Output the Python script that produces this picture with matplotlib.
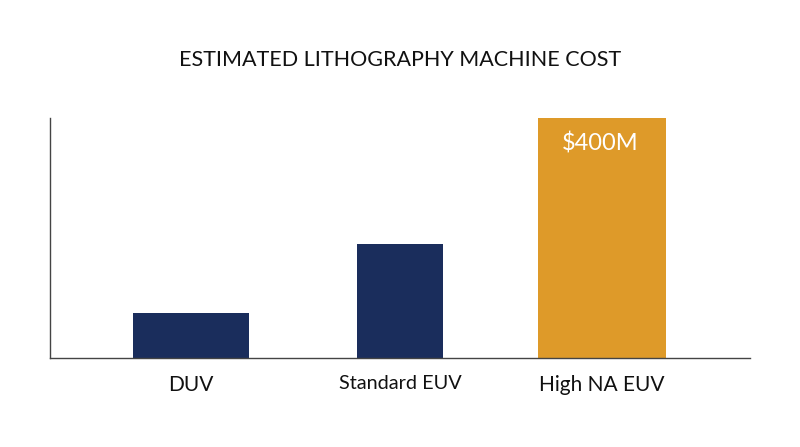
import matplotlib
matplotlib.use("Agg")
import matplotlib.pyplot as plt

# data (cost in $M)
machines = ["DUV", "Standard EUV", "High NA EUV"]
cost = [75, 190, 400]
value_labels = ["", "", "$400M"]

plt.rcParams["font.family"] = ["Lato", "DejaVu Sans"]

W, H = 800, 447
fig = plt.figure(figsize=(W / 100, H / 100), dpi=100)
ax = fig.add_axes([50 / W, (H - 358) / H, 700 / W, 240 / H])

# layout in axes pixel units
xpos = [141, 350, 552]
widths = [116, 86, 128]
colors = ["#1a2d5c", "#1a2d5c", "#de9a29"]
label_sizes = [15, 14.3, 15]

ax.bar(xpos, cost, width=widths, color=colors, align="center")

for x, v, lab in zip(xpos, cost, value_labels):
    if lab:
        ax.text(x - 2, v - 42, lab, ha="center", va="center", color="white", fontsize=17)

ax.set_xlim(0, 700)
ax.set_ylim(0, 400)
ax.set_xticks(xpos)
ax.set_xticklabels(machines)
for t, s in zip(ax.get_xticklabels(), label_sizes):
    t.set_fontsize(s)
    t.set_color("#111111")
ax.tick_params(axis="x", length=0, pad=12)
ax.set_yticks([])

for side in ["top", "right"]:
    ax.spines[side].set_visible(False)
for side in ["left", "bottom"]:
    ax.spines[side].set_color("#444444")
    ax.spines[side].set_linewidth(1)

fig.text(400 / W, 1 - 60 / H, "ESTIMATED LITHOGRAPHY MACHINE COST",
         ha="center", va="center", fontsize=15.5, color="#111111")

fig.savefig("out.png", dpi=100)
